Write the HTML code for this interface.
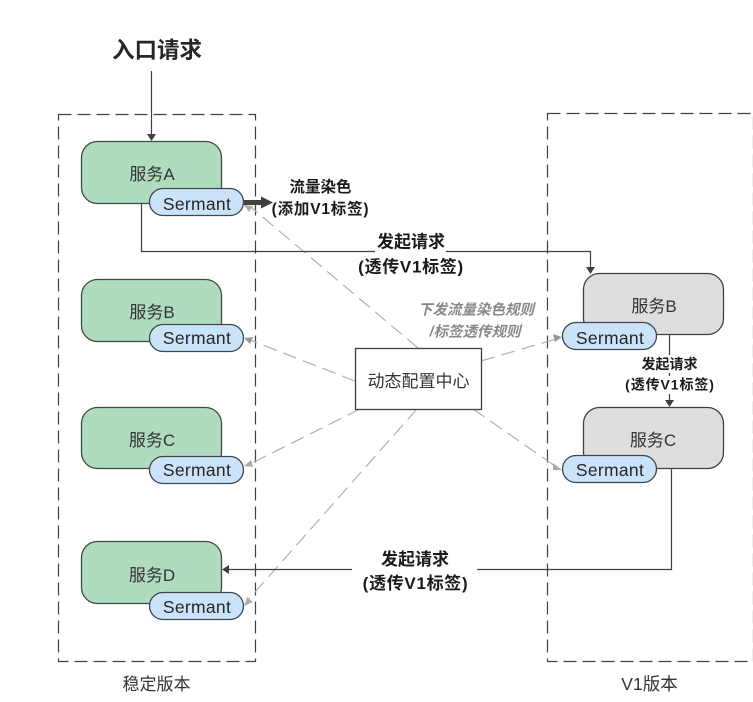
<!DOCTYPE html>
<html>
<head>
<meta charset="utf-8">
<style>
html,body{margin:0;padding:0;background:#fff;width:753px;height:702px;overflow:hidden}
svg{display:block}
text{font-family:"Liberation Sans","Noto Sans CJK SC",sans-serif;fill:#262626}
.n{font-size:17px;text-anchor:middle;fill:#333}
.s{font-size:17.500px;text-anchor:middle;fill:#262626;letter-spacing:.3px}
.b{font-size:17px;font-weight:700;text-anchor:middle;fill:#1a1a1a}
.g{fill:#afdcbf;stroke:#3f4a44;stroke-width:1.3}
.y{fill:#dedede;stroke:#404040;stroke-width:1.3}
.p{fill:#cbe3f9;stroke:#3f4650;stroke-width:1.3}
.d{fill:none;stroke:#b0b0b0;stroke-width:1.2;stroke-dasharray:14 7}
.l{fill:none;stroke:#404040;stroke-width:1.2}
.box{fill:none;stroke:#404040;stroke-width:1.2;stroke-dasharray:13 6}
</style>
</head>
<body>
<svg width="753" height="702" viewBox="0 0 753 702" xmlns="http://www.w3.org/2000/svg">
<rect class="box" x="58.500" y="114.500" width="197" height="547"/>
<rect class="box" x="547.500" y="113.500" width="206" height="548"/>

<!-- gray dashed connectors -->
<path class="d" d="M418 348L252 208"/>
<path class="d" d="M355 381L250 340"/>
<path class="d" d="M360 409L250 464"/>
<path class="d" d="M417 409L248 600"/>
<path class="d" d="M481 361L556 339"/>
<path class="d" d="M473 409L555 466"/>
<polygon points="244,338 253,337 250,344" fill="#999"/>
<polygon points="244,466 251,460 253,467" fill="#aaa"/>
<polygon points="244,606 247,597 253,602" fill="#b0b0b0"/>
<polygon points="562,337 553,334 555,342" fill="#999"/>
<polygon points="562,470 553,463 553,470" fill="#aaa"/>
<polygon points="244,205 253,206 249,212" fill="#aaa"/>

<!-- services left -->
<rect class="g" x="81.500" y="141.500" width="140" height="62" rx="16"/>
<rect class="g" x="81.500" y="279.500" width="140" height="62" rx="16"/>
<rect class="g" x="81.500" y="407.500" width="140" height="61" rx="16"/>
<rect class="g" x="81.500" y="541.500" width="140" height="62" rx="16"/>
<!-- services right -->
<rect class="y" x="583.500" y="273.500" width="140" height="61" rx="16"/>
<rect class="y" x="583.500" y="407.500" width="140" height="61" rx="16"/>

<!-- solid connectors -->
<path class="l" d="M151.500 71V135"/>
<polygon points="151.500,141 147,134 156,134" fill="#404040"/>
<path class="l" d="M141.500 203V251.500H590.500V268"/>
<polygon points="590.500,274 586,267 595,267" fill="#404040"/>
<path class="l" d="M669.500 335V401"/>
<polygon points="669.500,407 665,400 674,400" fill="#404040"/>
<path class="l" d="M671.500 469V569.500H228"/>
<polygon points="222,569.500 229,565 229,574" fill="#404040"/>
<path d="M244 202.500H262" stroke="#404040" stroke-width="5" fill="none"/>
<polygon points="273,202.500 261,196.500 261,208.500" fill="#404040"/>

<!-- label backgrounds -->
<rect x="375" y="230" width="71" height="24" fill="#fff"/>
<rect x="356" y="254" width="112" height="22" fill="#fff"/>
<rect x="640" y="355" width="60" height="18" fill="#fff"/>
<rect x="625" y="376" width="90" height="18" fill="#fff"/>
<rect x="379" y="547" width="72" height="20" fill="#fff"/>
<rect x="352" y="567" width="125" height="27" fill="#fff"/>

<!-- sermant -->
<rect class="p" x="149.500" y="188.500" width="94" height="27" rx="13.500"/>
<rect class="p" x="149.500" y="324.500" width="94" height="27" rx="13.500"/>
<rect class="p" x="149.500" y="456.500" width="94" height="27" rx="13.500"/>
<rect class="p" x="149.500" y="592.500" width="94" height="27" rx="13.500"/>
<rect class="p" x="562.500" y="322.500" width="94" height="27" rx="13.500"/>
<rect class="p" x="562.500" y="455.500" width="94" height="27" rx="13.500"/>

<text class="s" x="197" y="210">Sermant</text>
<text class="s" x="197" y="344">Sermant</text>
<text class="s" x="197" y="476">Sermant</text>
<text class="s" x="197" y="613">Sermant</text>
<text class="s" x="610" y="344">Sermant</text>
<text class="s" x="610" y="476">Sermant</text>

<text class="n" x="152" y="180">服务A</text>
<text class="n" x="152" y="318">服务B</text>
<text class="n" x="152" y="446">服务C</text>
<text class="n" x="152" y="581">服务D</text>
<text class="n" x="654" y="312">服务B</text>
<text class="n" x="653" y="446">服务C</text>

<rect x="355.500" y="348.500" width="126" height="61" fill="#fff" stroke="#404040" stroke-width="1.3"/>
<text class="n" x="418.500" y="387">动态配置中心</text>

<text x="157" y="58" font-size="22.500" font-weight="700" text-anchor="middle" style="fill:#262626">入口请求</text>

<text class="b" x="320.500" y="192" style="font-size:15.500px">流量染色</text>
<text class="b" x="320.500" y="214" style="font-size:15.500px;letter-spacing:.8px">(添加V1标签)</text>
<text class="b" x="411" y="247.500">发起请求</text>
<text class="b" x="411" y="272.500" style="letter-spacing:.7px">(透传V1标签)</text>
<text class="b" x="669.500" y="369" style="font-size:14px">发起请求</text>
<text class="b" x="670" y="389.500" style="font-size:14px;letter-spacing:.9px">(透传V1标签)</text>
<text class="b" x="415" y="565">发起请求</text>
<text class="b" x="415.500" y="589" style="letter-spacing:.7px">(透传V1标签)</text>

<text x="476" y="314.500" font-size="14.500" font-weight="700" font-style="italic" text-anchor="middle" style="fill:#888">下发流量染色规则</text>
<text x="475" y="336.500" font-size="14.500" font-weight="700" font-style="italic" text-anchor="middle" style="fill:#888">/标签透传规则</text>

<text x="156.500" y="690" font-size="17" text-anchor="middle" style="fill:#333">稳定版本</text>
<text x="649.500" y="690" font-size="17.500" text-anchor="middle" style="fill:#333">V1版本</text>
</svg>
</body>
</html>
